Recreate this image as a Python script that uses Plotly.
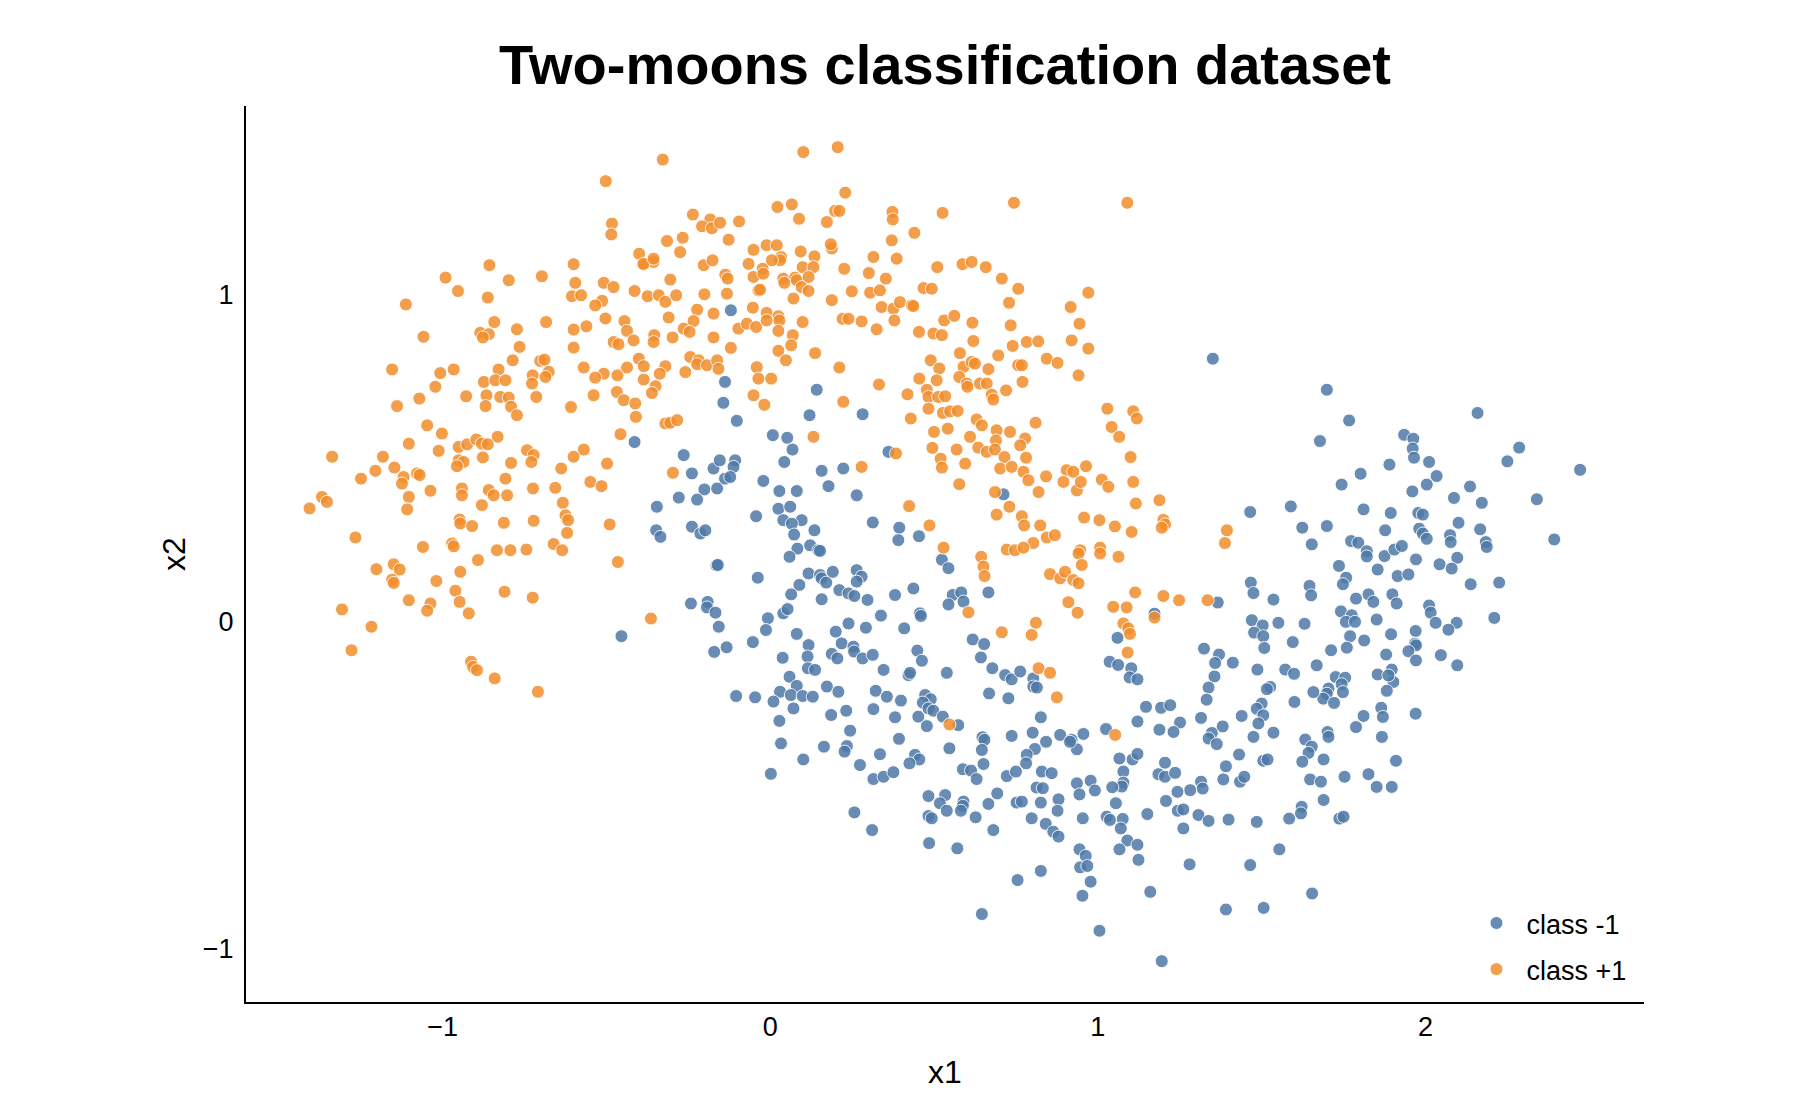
import plotly.graph_objects as go

# points, (x1, x2)
class_pos = [
    (-0.857, 1.089), (-0.600, 1.092), (-0.386, 1.092), (-0.356, 1.099), (-0.203, 1.089), (-0.991, 1.051),
    (-0.798, 1.043), (-0.697, 1.055), (-0.595, 1.035), (-0.508, 1.035), (-0.478, 1.022), (-0.414, 1.010),
    (-0.305, 1.045), (-0.953, 1.010), (-0.862, 0.990), (-0.605, 0.994), (-0.577, 0.997), (-0.374, 0.994),
    (-0.340, 0.997), (-0.320, 0.977), (-0.287, 0.997), (-0.201, 1.000), (-0.513, 0.980), (-0.534, 0.966),
    (-1.112, 0.969), (-0.223, 0.953), (-0.173, 0.941), (-0.503, 0.926), (-0.445, 0.918), (-0.310, 0.929),
    (-0.842, 0.915), (-0.684, 0.915), (-0.234, 0.918), (-0.264, 0.895), (-0.246, 0.885), (-0.885, 0.882),
    (-0.859, 0.878), (-0.877, 0.868), (-0.773, 0.893), (-0.600, 0.892), (-0.561, 0.902), (-0.437, 0.888),
    (-0.354, 0.875), (-0.356, 0.854), (-0.298, 0.868), (-0.173, 0.868), (-1.058, 0.870), (-0.478, 0.854),
    (-0.463, 0.847), (-0.417, 0.859), (-0.765, 0.839), (-0.600, 0.837), (-0.401, 0.803), (-0.386, 0.780),
    (-0.244, 0.808), (-0.218, 0.798), (-0.223, 0.786), (-0.193, 0.783), (-0.162, 0.798), (-0.786, 0.798),
    (-0.702, 0.796), (-0.689, 0.800), (-0.676, 0.763), (-0.725, 0.752), (-0.686, 0.747), (-0.727, 0.727),
    (-1.154, 0.770), (-1.007, 0.759), (-0.966, 0.770), (-0.829, 0.770), (-0.569, 0.776), (-0.508, 0.757),
    (-0.534, 0.745), (-0.466, 0.752), (-0.437, 0.776), (-0.320, 0.780), (-0.337, 0.757), (-0.259, 0.762),
    (-0.874, 0.732), (-0.839, 0.737), (-0.808, 0.737), (-0.386, 0.739), (-1.022, 0.717), (-0.350, 0.719),
    (-0.361, 0.698), (-0.866, 0.691), (-0.824, 0.686), (-0.798, 0.684), (-0.791, 0.656), (-0.773, 0.630),
    (-0.869, 0.658), (-0.928, 0.688), (-0.714, 0.686), (-0.539, 0.691), (-0.468, 0.701), (-0.447, 0.676),
    (-0.412, 0.666), (-0.410, 0.625), (-1.071, 0.681), (-1.139, 0.658), (-0.608, 0.655), (-0.320, 0.605),
    (-0.305, 0.607), (-0.284, 0.615), (-1.047, 0.599), (-1.002, 0.574), (-0.457, 0.572), (-0.832, 0.564),
    (-1.103, 0.543), (-0.951, 0.533), (-0.925, 0.541), (-0.897, 0.556), (-0.880, 0.543), (-0.862, 0.541),
    (-1.012, 0.521), (-0.742, 0.523), (-0.722, 0.508), (-0.729, 0.487), (-0.569, 0.525), (-0.600, 0.503),
    (-1.337, 0.503), (-1.182, 0.503), (-0.951, 0.492), (-0.936, 0.487), (-0.956, 0.474), (-0.877, 0.501),
    (-0.791, 0.484), (-0.498, 0.482), (-1.205, 0.460), (-1.249, 0.436), (-1.147, 0.470), (-1.119, 0.441),
    (-1.078, 0.452), (-1.070, 0.447), (-1.124, 0.421), (-0.638, 0.467), (-0.297, 0.454), (-0.808, 0.436),
    (-0.549, 0.426), (-0.515, 0.413), (-1.037, 0.399), (-1.103, 0.380), (-0.941, 0.406), (-0.941, 0.385),
    (-0.859, 0.401), (-0.844, 0.385), (-0.803, 0.385), (-0.724, 0.406), (-0.656, 0.408), (-1.368, 0.380),
    (-1.353, 0.365), (-1.406, 0.345), (-0.880, 0.355), (-0.633, 0.362), (-1.108, 0.342), (-0.625, 0.324),
    (-0.617, 0.309), (-0.620, 0.270), (-0.948, 0.311), (-0.946, 0.299), (-0.910, 0.291), (-0.813, 0.301),
    (-0.722, 0.307), (-0.490, 0.296), (-1.266, 0.256), (-0.971, 0.238), (-0.966, 0.229), (-1.060, 0.227),
    (-0.834, 0.217), (-0.793, 0.217), (-0.744, 0.219), (-0.661, 0.236), (-0.635, 0.217), (-0.892, 0.187),
    (-0.465, 0.181), (-1.202, 0.159), (-1.149, 0.174), (-1.131, 0.158), (-1.154, 0.127), (-1.149, 0.117),
    (-0.946, 0.151), (-1.019, 0.123), (-0.961, 0.093), (-0.948, 0.059), (-0.920, 0.024), (-0.811, 0.090),
    (-0.725, 0.072), (-1.103, 0.064), (-1.037, 0.054), (-1.047, 0.032), (-1.307, 0.036), (-0.364, 0.008),
    (-1.217, -0.017), (-1.278, -0.089), (-0.913, -0.124), (-0.907, -0.140), (-0.895, -0.150), (-0.841, -0.175),
    (-0.709, -0.216),
    (-0.328, 1.412), (-0.502, 1.346), (-0.483, 1.216), (-0.485, 1.183), (-0.236, 1.244), (-0.183, 1.229),
    (-0.208, 1.208), (-0.178, 1.202), (-0.153, 1.219), (-0.095, 1.223), (-0.315, 1.163), (-0.267, 1.173),
    (-0.275, 1.129), (-0.127, 1.167), (-0.400, 1.124), (-0.387, 1.093), (-0.356, 1.109), (-0.051, 1.136),
    (-0.176, 1.104), (-0.066, 1.093), (-0.137, 1.060), (-0.130, 1.048), (-0.051, 1.053), (-0.036, 1.012),
    (-0.132, 1.002), (-0.053, 0.959), (-0.097, 0.895), (-0.071, 0.910), (-0.043, 0.900), (-0.120, 0.836),
    (-0.041, 0.777), (-0.158, 0.772),
    (0.101, 1.435), (0.206, 1.450), (0.229, 1.311), (0.022, 1.267), (0.066, 1.275), (0.088, 1.231),
    (0.173, 1.221), (0.198, 1.255), (0.211, 1.255), (0.373, 1.252), (0.374, 1.229), (0.526, 1.249),
    (0.744, 1.280), (1.090, 1.280), (0.440, 1.188), (0.371, 1.165), (-0.011, 1.150), (0.020, 1.150),
    (0.093, 1.131), (0.135, 1.116), (0.188, 1.140), (0.185, 1.153), (0.033, 1.114), (0.030, 1.104),
    (0.005, 1.104), (0.315, 1.114), (0.386, 1.109), (-0.023, 1.078), (-0.021, 1.063), (0.099, 1.083),
    (0.132, 1.083), (0.226, 1.078), (0.510, 1.083), (0.587, 1.092), (0.615, 1.099), (0.658, 1.083),
    (0.301, 1.065), (0.353, 1.048), (0.707, 1.048), (0.040, 1.048), (0.076, 1.051), (0.081, 1.043),
    (0.117, 1.053), (0.096, 1.022), (0.117, 1.010), (0.043, 1.035), (-0.031, 1.014), (0.188, 0.982),
    (0.249, 1.009), (0.305, 1.005), (0.335, 1.012), (0.468, 1.019), (0.493, 1.017), (0.757, 1.017),
    (0.971, 1.005), (0.071, 0.987), (0.340, 0.961), (0.376, 0.956), (0.396, 0.976), (0.432, 0.966),
    (0.437, 0.964), (0.729, 0.974), (0.917, 0.961), (-0.011, 0.943), (0.025, 0.933), (0.028, 0.920),
    (-0.011, 0.920), (0.099, 0.915), (0.221, 0.925), (0.239, 0.925), (0.279, 0.917), (0.325, 0.893),
    (0.379, 0.920), (0.531, 0.920), (0.562, 0.934), (0.617, 0.913), (0.734, 0.905), (0.944, 0.910),
    (0.454, 0.885), (0.498, 0.880), (0.524, 0.875), (0.025, 0.888), (0.069, 0.875), (0.064, 0.844),
    (0.620, 0.857), (0.783, 0.854), (0.818, 0.856), (0.740, 0.842), (0.920, 0.859), (0.971, 0.834),
    (0.025, 0.827), (0.048, 0.798), (0.137, 0.820), (0.579, 0.820), (0.696, 0.813), (0.844, 0.803),
    (0.877, 0.790), (0.490, 0.798), (0.516, 0.773), (0.590, 0.778), (0.615, 0.793), (0.625, 0.788),
    (0.666, 0.771), (0.757, 0.783), (0.768, 0.783), (0.211, 0.776), (-0.036, 0.742), (0.003, 0.742),
    (0.455, 0.742), (0.508, 0.737), (0.577, 0.747), (0.600, 0.727), (0.602, 0.717), (0.640, 0.727),
    (0.661, 0.727), (0.770, 0.732), (0.941, 0.752), (0.332, 0.724), (-0.051, 0.691), (-0.018, 0.662),
    (0.223, 0.671), (0.419, 0.694), (0.478, 0.708), (0.483, 0.686), (0.513, 0.686), (0.534, 0.688),
    (0.676, 0.693), (0.681, 0.678), (0.720, 0.706), (0.483, 0.650), (0.527, 0.637), (0.549, 0.642),
    (0.572, 0.643), (0.429, 0.620), (0.630, 0.617), (0.646, 0.599), (0.810, 0.607), (1.029, 0.650),
    (1.108, 0.642), (1.119, 0.620), (1.042, 0.594), (1.065, 0.564), (0.132, 0.564), (0.500, 0.579),
    (0.542, 0.589), (0.610, 0.564), (0.691, 0.584), (0.732, 0.579), (0.689, 0.553), (0.778, 0.559),
    (0.763, 0.538), (0.495, 0.530), (0.569, 0.525), (0.635, 0.531), (0.661, 0.518), (0.686, 0.525),
    (0.384, 0.513), (1.100, 0.502), (0.520, 0.497), (0.524, 0.470), (0.595, 0.482), (0.715, 0.502),
    (0.702, 0.467), (0.737, 0.472), (0.781, 0.500), (0.279, 0.472), (0.686, 0.395), (0.577, 0.419),
    (0.773, 0.457), (0.788, 0.431), (0.819, 0.395), (0.842, 0.443), (0.905, 0.462), (0.925, 0.457),
    (0.895, 0.426), (0.936, 0.400), (0.948, 0.426), (0.964, 0.474), (1.012, 0.433), (1.032, 0.411),
    (1.108, 0.426), (1.116, 0.360), (0.424, 0.352), (0.730, 0.350), (0.691, 0.326), (0.768, 0.321),
    (0.775, 0.293), (0.824, 0.293), (0.958, 0.317), (1.005, 0.309), (1.052, 0.290), (1.103, 0.273),
    (0.844, 0.256), (0.869, 0.263), (0.803, 0.239), (0.486, 0.293), (0.529, 0.225), (0.722, 0.219),
    (0.747, 0.217), (0.773, 0.225), (0.644, 0.197), (0.946, 0.217), (0.941, 0.207), (1.007, 0.225),
    (1.007, 0.207), (1.063, 0.197),
    (0.605, 0.027), (0.651, 0.167), (0.654, 0.138), (0.854, 0.144), (0.885, 0.131), (0.900, 0.151),
    (0.925, 0.126), (0.941, 0.116), (0.951, 0.172), (1.114, 0.088), (0.910, 0.058), (0.938, 0.026),
    (1.047, 0.044), (1.088, 0.042), (1.078, -0.007), (1.093, -0.022), (1.098, -0.039), (0.811, -0.005),
    (0.798, -0.042), (0.707, -0.034), (1.091, -0.096), (0.819, -0.144), (0.854, -0.158), (0.875, -0.233),
    (0.547, -0.316), (1.053, -0.348),
    (1.188, 0.370), (1.200, 0.310), (1.205, 0.296), (1.195, 0.286), (1.394, 0.278), (1.388, 0.239),
    (1.200, 0.077), (1.248, 0.064), (1.335, 0.064), (1.173, 0.011),
]

class_neg = [
    (-0.414, 0.548), (-0.264, 0.508), (-0.239, 0.452), (-0.173, 0.467), (-0.154, 0.492), (-0.201, 0.403),
    (-0.223, 0.372), (-0.279, 0.378), (-0.162, 0.406), (-0.346, 0.350), (-0.348, 0.278), (-0.335, 0.258),
    (-0.239, 0.289), (-0.213, 0.268), (-0.198, 0.278), (-0.164, 0.171), (-0.242, 0.054), (-0.191, 0.059),
    (-0.193, 0.042), (-0.167, 0.026), (-0.454, -0.046), (-0.157, -0.017), (-0.171, -0.094), (-0.120, 0.951),
    (-0.107, 0.492), (-0.112, 0.472), (-0.138, 0.436), (-0.122, 0.441), (-0.138, 0.732), (0.142, 0.708),
    (-0.143, 0.668), (0.120, 0.630), (0.282, 0.633), (-0.102, 0.613), (0.008, 0.569), (0.052, 0.561),
    (0.068, 0.525), (0.043, 0.487), (0.361, 0.518), (-0.021, 0.429), (0.157, 0.460), (0.223, 0.467),
    (0.028, 0.398), (0.081, 0.398), (0.178, 0.413), (0.264, 0.385), (0.712, 0.388), (-0.043, 0.321),
    (0.025, 0.344), (0.061, 0.350), (0.040, 0.309), (0.096, 0.309), (0.066, 0.298), (0.073, 0.265),
    (0.135, 0.278), (0.313, 0.302), (0.394, 0.286), (0.391, 0.248), (0.454, 0.260), (0.083, 0.222),
    (0.122, 0.232), (0.147, 0.217), (0.152, 0.215), (0.059, 0.197), (0.524, 0.188),
    (-0.160, 0.172), (-0.038, 0.133), (0.117, 0.146), (0.152, 0.141), (0.157, 0.131), (0.171, 0.118),
    (0.191, 0.151), (0.264, 0.156), (0.279, 0.136), (0.264, 0.121), (0.089, 0.111), (0.064, 0.082),
    (0.211, 0.095), (0.239, 0.085), (0.257, 0.077), (0.297, 0.065), (0.157, 0.067), (0.381, 0.080),
    (0.437, 0.100), (0.544, 0.162), (0.557, 0.080), (0.583, 0.088), (0.590, 0.060), (0.544, 0.051),
    (0.666, 0.088), (1.060, -0.051), (0.040, 0.024), (0.053, 0.037), (-0.007, 0.009), (-0.013, -0.027),
    (-0.133, -0.080), (-0.053, -0.064), (0.338, 0.017), (0.457, 0.024), (0.460, 0.016), (0.239, -0.007),
    (0.292, -0.020), (0.200, -0.032), (0.409, -0.022), (0.081, -0.039), (0.117, -0.073), (0.114, -0.108),
    (0.218, -0.068), (0.254, -0.078), (0.256, -0.093), (0.282, -0.114), (0.313, -0.103), (0.188, -0.100),
    (0.205, -0.114), (0.038, -0.112), (0.449, -0.090), (0.463, -0.121), (0.618, -0.056), (0.653, -0.070),
    (0.643, -0.111), (0.115, -0.144), (0.137, -0.149), (0.346, -0.149), (0.422, -0.165), (0.427, -0.158),
    (0.539, -0.158), (0.678, -0.144), (0.717, -0.165), (0.737, -0.178), (0.763, -0.154), (0.803, -0.175),
    (0.803, -0.200), (0.814, -0.203), (1.036, -0.124), (1.062, -0.134), (1.102, -0.144), (1.097, -0.172),
    (1.121, -0.178), (0.059, -0.170), (0.081, -0.198), (0.030, -0.216), (0.063, -0.226), (0.099, -0.229),
    (0.130, -0.231), (0.010, -0.246), (0.071, -0.267), (-0.104, -0.229), (-0.046, -0.233), (0.173, -0.200),
    (0.208, -0.216), (0.322, -0.213), (0.356, -0.231), (0.399, -0.243), (0.315, -0.269), (0.473, -0.226),
    (0.490, -0.239), (0.466, -0.249), (0.483, -0.267), (0.498, -0.274), (0.452, -0.292), (0.478, -0.321),
    (0.527, -0.292), (0.574, -0.318), (0.668, -0.221), (0.727, -0.236), (0.232, -0.274), (0.186, -0.287),
    (0.381, -0.294), (0.028, -0.305), (0.244, -0.335), (0.826, -0.294), (0.393, -0.360), (0.033, -0.374),
    (0.164, -0.384), (0.234, -0.382), (0.227, -0.399), (0.335, -0.407), (0.547, -0.389), (0.737, -0.351),
    (0.648, -0.355), (0.654, -0.363), (0.646, -0.394), (0.651, -0.437), (0.801, -0.341), (0.842, -0.369),
    (0.808, -0.391), (0.783, -0.409), (0.781, -0.435), (0.885, -0.348), (0.920, -0.363), (0.936, -0.392),
    (0.956, -0.345), (0.915, -0.369), (1.025, -0.330), (1.121, -0.307), (1.066, -0.420), (1.106, -0.423),
    (1.121, -0.406), (0.101, -0.423), (0.274, -0.440), (0.002, -0.467), (0.442, -0.409), (0.455, -0.423),
    (0.425, -0.435), (0.315, -0.483), (0.346, -0.476), (0.376, -0.462), (0.588, -0.453), (0.613, -0.457),
    (0.630, -0.483), (0.722, -0.474), (0.750, -0.460), (0.829, -0.460), (0.859, -0.465), (1.078, -0.460),
    (1.078, -0.494), (1.073, -0.506), (1.044, -0.508), (0.813, -0.509), (0.832, -0.511), (0.936, -0.496),
    (0.978, -0.488), (0.991, -0.518), (0.944, -0.530), (0.483, -0.535), (0.534, -0.532), (0.518, -0.557),
    (0.539, -0.580), (0.590, -0.552), (0.588, -0.565), (0.582, -0.580), (0.693, -0.527), (0.666, -0.559),
    (0.752, -0.555), (0.768, -0.552), (0.826, -0.555), (0.880, -0.545), (0.877, -0.580), (1.055, -0.557),
    (0.483, -0.596), (0.493, -0.603), (0.627, -0.600), (0.798, -0.603), (0.841, -0.620), (0.864, -0.644),
    (0.880, -0.659), (0.954, -0.603), (1.027, -0.598), (1.037, -0.608), (1.076, -0.605), (1.070, -0.634),
    (0.257, -0.585), (0.311, -0.639), (0.681, -0.639), (0.485, -0.679), (0.571, -0.695), (1.090, -0.671),
    (1.121, -0.684), (1.066, -0.698), (1.124, -0.730), (0.944, -0.698), (0.963, -0.718), (0.946, -0.753),
    (0.968, -0.749), (0.826, -0.764), (0.755, -0.792), (0.978, -0.797), (0.953, -0.840), (0.646, -0.896),
    (1.005, -0.947),
    (1.351, 0.803), (1.699, 0.708), (1.767, 0.614), (1.678, 0.551), (2.159, 0.637), (1.935, 0.570),
    (1.963, 0.558), (1.961, 0.528), (1.965, 0.500), (2.011, 0.487), (2.034, 0.444), (2.004, 0.418),
    (1.890, 0.479), (1.802, 0.451), (1.744, 0.418), (2.286, 0.531), (2.250, 0.489), (2.472, 0.463),
    (2.136, 0.412), (2.087, 0.377), (2.172, 0.362), (2.340, 0.373), (1.960, 0.397), (1.465, 0.334),
    (1.589, 0.351), (1.624, 0.286), (1.699, 0.291), (1.653, 0.235), (1.811, 0.342), (1.894, 0.331),
    (1.978, 0.331), (1.992, 0.326), (1.981, 0.283), (1.992, 0.268), (2.004, 0.252), (2.101, 0.301),
    (2.075, 0.263), (2.077, 0.242), (2.167, 0.281), (2.184, 0.242), (2.187, 0.227), (2.393, 0.250),
    (1.877, 0.278), (1.773, 0.245), (1.795, 0.240), (1.821, 0.214), (1.821, 0.198), (1.875, 0.199),
    (1.905, 0.219), (1.928, 0.230), (1.971, 0.189), (2.097, 0.194), (2.043, 0.174), (2.080, 0.161),
    (1.736, 0.169), (1.854, 0.158), (1.915, 0.138), (1.948, 0.143), (1.758, 0.133), (1.748, 0.113),
    (1.646, 0.108), (1.651, 0.079), (2.138, 0.113), (2.225, 0.118), (1.467, 0.118), (1.475, 0.086),
    (1.536, 0.066), (1.366, 0.057), (1.173, 0.023), (1.788, 0.069), (1.826, 0.082), (1.841, 0.059),
    (1.899, 0.082), (1.912, 0.054), (2.011, 0.048), (2.016, 0.026), (2.031, -0.005), (2.095, -0.005),
    (2.070, -0.026), (2.210, 0.010), (1.742, 0.030), (1.775, 0.018), (1.757, -0.002), (1.785, -0.002),
    (1.851, 0.005), (1.470, 0.003), (1.503, -0.013), (1.477, -0.035), (1.505, -0.046), (1.508, -0.082),
    (1.551, -0.005), (1.631, -0.008), (1.595, -0.064), (1.770, -0.046), (1.813, -0.059), (1.760, -0.081),
    (1.895, -0.040), (1.970, -0.030), (1.968, -0.069), (1.971, -0.074), (1.948, -0.092), (1.971, -0.120),
    (2.047, -0.104), (2.097, -0.135), (1.712, -0.089), (1.880, -0.102), (1.324, -0.084), (1.370, -0.102),
    (1.358, -0.128), (1.356, -0.169), (1.338, -0.203), (1.332, -0.240), (1.412, -0.127), (1.487, -0.148),
    (1.572, -0.148), (1.599, -0.161), (1.668, -0.135), (1.854, -0.163), (1.897, -0.148), (1.902, -0.186),
    (1.887, -0.166), (1.882, -0.213), (1.726, -0.171), (1.755, -0.173), (1.744, -0.193), (1.704, -0.206),
    (1.748, -0.217), (1.699, -0.222), (1.688, -0.237), (1.721, -0.250), (1.658, -0.217), (1.526, -0.201),
    (1.516, -0.208), (1.600, -0.247), (1.147, -0.262), (1.193, -0.265), (1.221, -0.257), (1.500, -0.252),
    (1.485, -0.268), (1.505, -0.288), (1.490, -0.313), (1.315, -0.296), (1.251, -0.310), (1.231, -0.339),
    (1.188, -0.332), (1.381, -0.322), (1.348, -0.342), (1.439, -0.290), (1.536, -0.341), (1.811, -0.290),
    (1.788, -0.324), (1.865, -0.265), (1.870, -0.293), (1.867, -0.354), (1.970, -0.283), (1.701, -0.339),
    (1.704, -0.354), (1.475, -0.354), (1.633, -0.362), (1.338, -0.359),
    (1.363, -0.376), (1.653, -0.384), (1.643, -0.403), (1.205, -0.433), (1.185, -0.468), (1.205, -0.476),
    (1.236, -0.464), (1.391, -0.444), (1.431, -0.408), (1.505, -0.427), (1.518, -0.423), (1.624, -0.430),
    (1.689, -0.423), (1.910, -0.427), (1.826, -0.468), (1.753, -0.476), (1.851, -0.507), (1.897, -0.507),
    (1.383, -0.484), (1.434, -0.491), (1.447, -0.476), (1.315, -0.491), (1.320, -0.512), (1.282, -0.517),
    (1.243, -0.522), (1.648, -0.484), (1.681, -0.491), (1.208, -0.550), (1.689, -0.547), (1.151, -0.590),
    (1.244, -0.580), (1.261, -0.576), (1.307, -0.593), (1.338, -0.611), (1.399, -0.607), (1.485, -0.614),
    (1.584, -0.604), (1.622, -0.568), (1.620, -0.588), (1.737, -0.604), (1.750, -0.598), (1.261, -0.634),
    (1.554, -0.698), (1.280, -0.744), (1.465, -0.746), (1.160, -0.828), (1.654, -0.833), (1.391, -0.882),
    (1.506, -0.877), (1.195, -1.040),
]

series_names = ["class -1", "class +1"]
series_colors = ["#4e79a7", "#f28e2b"]
x_ticks = [-1, 0, 1, 2]
y_ticks = [-1, 0, 1]

fig = go.Figure()
for name, color, pts in zip(series_names, series_colors, [class_neg, class_pos]):
    fig.add_trace(go.Scatter(
        x=[p[0] for p in pts],
        y=[p[1] for p in pts],
        mode="markers",
        name=name,
        legendgroup=name,
        marker=dict(size=13, color=color, opacity=0.85,
                    line=dict(color="white", width=1)),
    ))

axis_style = dict(
    showline=True, linecolor="black", linewidth=2,
    showgrid=False, zeroline=False, ticks="",
    tickfont=dict(size=27, color="black"),
    title_font=dict(size=32, color="black"),
)

# the page body adds an 8px margin, so the figure is 8px smaller each way
fig.update_layout(
    width=1792, height=1112,
    paper_bgcolor="white", plot_bgcolor="white",
    font=dict(family="Liberation Sans, Arial, sans-serif", color="black"),
    margin=dict(l=238, r=156, t=98, b=118),
    title=dict(text="<b>Two-moons classification dataset</b>",
               x=0.5, xref="paper", y=0.9496, yanchor="middle",
               font=dict(size=56, color="black")),
    xaxis=dict(range=[-1.6, 2.667], tickvals=x_ticks, title_text="x1",
               title_standoff=19, **axis_style),
    yaxis=dict(range=[-1.165, 1.576], tickvals=y_ticks, title_text="x2",
               title_standoff=8, ticklabelstandoff=5, **axis_style),
    legend=dict(x=0.873, y=0.115, xanchor="left", yanchor="top",
                font=dict(size=27, color="black"), tracegroupgap=8,
                itemwidth=50, bgcolor="rgba(0,0,0,0)"),
    showlegend=True,
)

fig.write_html("out.html")
